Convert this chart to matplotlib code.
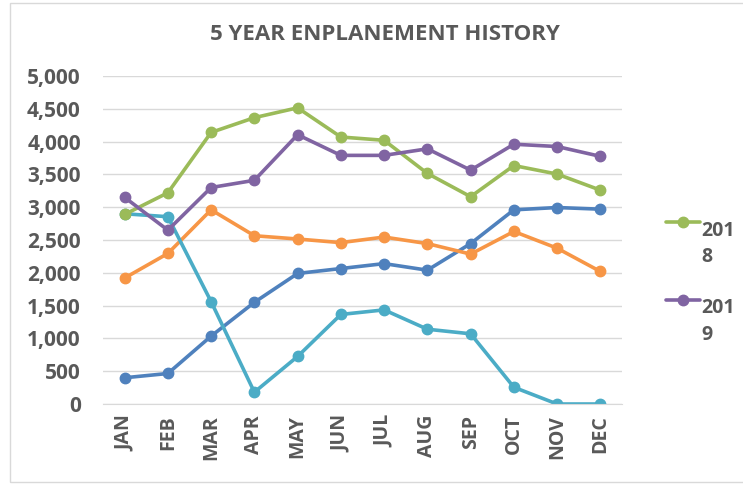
import matplotlib
matplotlib.use("Agg")
import matplotlib.pyplot as plt
import numpy as np
from matplotlib.legend_handler import HandlerLine2D
from matplotlib.patches import Rectangle

months = ["JAN", "FEB", "MAR", "APR", "MAY", "JUN", "JUL", "AUG", "SEP", "OCT", "NOV", "DEC"]

# series without legend entries
blue_vals = [400, 465, 1035, 1550, 1990, 2065, 2140, 2040, 2445, 2960, 2995, 2970]
orange_vals = [1920, 2295, 2960, 2565, 2515, 2460, 2545, 2445, 2285, 2630, 2375, 2020]
cyan_vals = [2900, 2855, 1560, 180, 725, 1365, 1435, 1140, 1070, 255, 0, 0]
# series in legend
vals_2018 = [2890, 3220, 4140, 4365, 4515, 4070, 4020, 3515, 3160, 3635, 3505, 3260]
vals_2019 = [3150, 2650, 3300, 3410, 4105, 3790, 3790, 3890, 3565, 3960, 3925, 3775]

yticks = [0, 500, 1000, 1500, 2000, 2500, 3000, 3500, 4000, 4500, 5000]

GREY = "#595959"
FONT = "Open Sans"


class TopAlignedLine(HandlerLine2D):
    # put the legend line next to the first line of a wrapped label
    def create_artists(self, legend, orig_handle, xdescent, ydescent, width, height, fontsize, trans):
        arts = super().create_artists(legend, orig_handle, xdescent, ydescent, width, height, fontsize, trans)
        for a in arts:
            a.set_ydata(np.asarray(a.get_ydata()) + fontsize * 1.15)
        return arts


fig = plt.figure(figsize=(7.43, 4.84), dpi=100)
fig.patches.append(Rectangle((10 / 743, 2 / 484), 740 / 743, 479 / 484, transform=fig.transFigure,
                             fill=False, edgecolor="#d9d9d9", linewidth=1.0))
ax = fig.add_axes([103 / 743, 1 - 404 / 484, (622 - 103) / 743, (404 - 76) / 484])

x = np.arange(len(months))
style = dict(linewidth=2.6, marker="o", markersize=7.5, solid_capstyle="round")
ax.plot(x, blue_vals, color="#4F81BD", **style)
ax.plot(x, orange_vals, color="#F79646", **style)
ax.plot(x, cyan_vals, color="#4BACC6", **style)
l18, = ax.plot(x, vals_2018, color="#9BBB59", **style)
l19, = ax.plot(x, vals_2019, color="#8064A2", **style)

ax.set_xlim(-0.5, len(months) - 0.5)
ax.set_ylim(0, 5000)
ax.set_yticks(yticks)
ax.set_yticklabels([f"{v:,}" for v in yticks], fontfamily=FONT, fontweight="bold", fontsize=15, color=GREY)
ax.set_xticks(x)
ax.set_xticklabels(months, rotation=90, fontfamily=FONT, fontweight="bold", fontsize=14, color=GREY)
ax.tick_params(axis="y", length=0, pad=16)
ax.tick_params(axis="x", length=0, pad=8)
ax.grid(axis="y", color="#d9d9d9", linewidth=1.0)
ax.set_axisbelow(True)
for s in ["top", "right", "left"]:
    ax.spines[s].set_visible(False)
ax.spines["bottom"].set_color("#d9d9d9")

fig.text(385 / 743, 1 - 35 / 484, "5 YEAR ENPLANEMENT HISTORY", ha="center", va="center",
         fontfamily=FONT, fontweight="bold", fontsize=16, color=GREY)

leg = fig.legend([l18, l19], ["201\n8", "201\n9"], loc="upper left",
                 bbox_to_anchor=(648 / 743, 1 - 203 / 484), frameon=False,
                 handlelength=1.75, handletextpad=0.1, labelspacing=1.6,
                 prop={"family": FONT, "weight": "bold", "size": 14},
                 handler_map={l18: TopAlignedLine(), l19: TopAlignedLine()})
for t in leg.get_texts():
    t.set_color(GREY)
    t.set_linespacing(1.45)

fig.savefig("out.png", dpi=100)
